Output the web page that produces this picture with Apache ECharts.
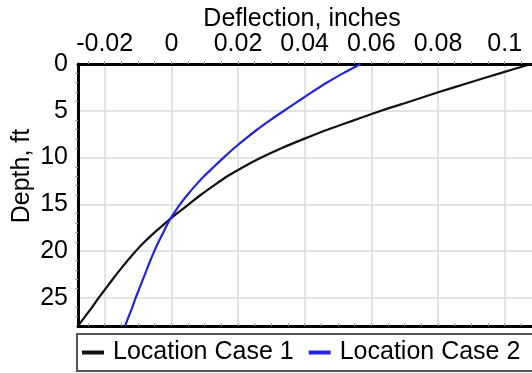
<!DOCTYPE html>
<html>
<head>
<meta charset="utf-8">
<script src="https://cdn.jsdelivr.net/npm/echarts@6/dist/echarts.min.js"></script>
<style>
  html, body { margin: 0; padding: 0; background: #fff; overflow: hidden; width: 532px; height: 373px; }
  #chart { width: 640px; height: 373px; }
</style>
</head>
<body>
<div id="chart"></div>
<script>
// Depth (ft) for each sample
var depths = [0,1,2,3,4,5,6,7,8,9,10,11,12,13,14,15,16,17,18,19,20,21,22,23,24,25,26,27,28];
// Deflection (inches), Location Case 1
var case1 = [0.108,0.0985,0.0893,0.0803,0.0716,0.0629,0.0549,0.047,0.0398,0.0330,0.0270,0.0216,0.0168,0.0127,0.0088,0.0052,0.0016,-0.0018,-0.005,-0.008,-0.0107,-0.0131,-0.0154,-0.0176,-0.0197,-0.0218,-0.0238,-0.0259,-0.028];
// Deflection (inches), Location Case 2
var case2 = [0.0568,0.0515,0.0466,0.0422,0.038,0.0338,0.0297,0.0258,0.0222,0.0188,0.0157,0.0127,0.0098,0.0072,0.0048,0.0026,0.0007,-0.001,-0.0024,-0.0038,-0.0051,-0.0063,-0.0074,-0.0085,-0.0096,-0.0107,-0.0117,-0.0128,-0.0139];
var seriesNames = ['Location Case 1', 'Location Case 2'];
var xTitle = 'Deflection, inches';
var yTitle = 'Depth, ft';
// small tick marks along the horizontal borders
var xMinorTicks = [-0.025,-0.02,-0.015,-0.01,-0.005,0,0.005,0.01,0.015,0.02,0.025,0.03,0.035,0.04,0.045,0.05,0.055,0.06,0.065,0.07,0.075,0.08,0.085,0.09,0.095,0.1,0.105];

function pairs(xs) { return xs.map(function (v, i) { return [v, depths[i]]; }); }

var FONT = '"Liberation Sans", Arial, sans-serif';
var FS = 25;
var gridColor = '#dadada';

var chart = echarts.init(document.getElementById('chart'), null, { renderer: 'canvas' });
chart.setOption({
  animation: false,
  backgroundColor: '#fff',
  grid: { left: 78, right: 102, top: 64, bottom: 47, containLabel: false },
  xAxis: [
    {
      type: 'value', position: 'top', min: -0.028, max: 0.11, splitNumber: 7,
      axisLine: { show: true, lineStyle: { color: '#000', width: 3 } },
      axisTick: { show: false },
      axisLabel: { fontSize: FS, color: '#000', fontFamily: FONT, margin: 7, showMinLabel: false, showMaxLabel: false },
      splitLine: { show: true, lineStyle: { color: gridColor, width: 1.5 } }
    },
    {
      type: 'value', position: 'bottom', min: -0.028, max: 0.11,
      axisLine: { show: true, onZero: false, lineStyle: { color: '#000', width: 3 } },
      axisTick: { show: true, inside: true, length: 3, customValues: xMinorTicks, lineStyle: { color: '#999', width: 1 } },
      axisLabel: { show: false },
      splitLine: { show: false }
    },
    {
      type: 'value', position: 'top', min: -0.028, max: 0.11,
      axisLine: { show: false },
      axisTick: { show: true, inside: false, length: 3, customValues: xMinorTicks, lineStyle: { color: '#999', width: 1 } },
      axisLabel: { show: false },
      splitLine: { show: false }
    }
  ],
  yAxis: [
    {
      type: 'value', inverse: true, min: 0, max: 28, interval: 5,
      axisLine: { show: true, onZero: false, lineStyle: { color: '#000', width: 3 } },
      axisTick: { show: false },
      minorTick: { show: true, splitNumber: 5, length: 3, lineStyle: { color: '#999', width: 1 } },
      axisLabel: { fontSize: FS, color: '#000', fontFamily: FONT, margin: 10, showMaxLabel: false },
      splitLine: { show: true, lineStyle: { color: gridColor, width: 1.5 } }
    }
  ],
  legend: {
    data: seriesNames,
    left: 77, top: 334,
    padding: [6, 80, 6, 5],
    borderColor: '#555', borderWidth: 2,
    icon: 'rect', itemWidth: 22, itemHeight: 4, itemGap: 15,
    textStyle: { fontSize: FS, color: '#000', fontFamily: FONT, padding: [0, 0, 0, 4] }
  },
  graphic: [
    { type: 'text', x: 302, y: 19, style: { text: xTitle, align: 'center', verticalAlign: 'middle', fontSize: FS, fontFamily: FONT, fill: '#000' } },
    { type: 'text', x: 22, y: 176, rotation: Math.PI / 2, style: { text: yTitle, align: 'center', verticalAlign: 'middle', fontSize: FS, fontFamily: FONT, fill: '#000' } }
  ],
  series: [
    {
      name: seriesNames[0], type: 'line', xAxisIndex: 0, yAxisIndex: 0,
      data: pairs(case1), showSymbol: false, smooth: 0.3, color: '#111',
      lineStyle: { color: '#111', width: 2.2 }
    },
    {
      name: seriesNames[1], type: 'line', xAxisIndex: 0, yAxisIndex: 0,
      data: pairs(case2), showSymbol: false, smooth: 0.3, color: '#2424dc',
      lineStyle: { color: '#2424dc', width: 2.2 }
    }
  ]
});
</script>
</body>
</html>
